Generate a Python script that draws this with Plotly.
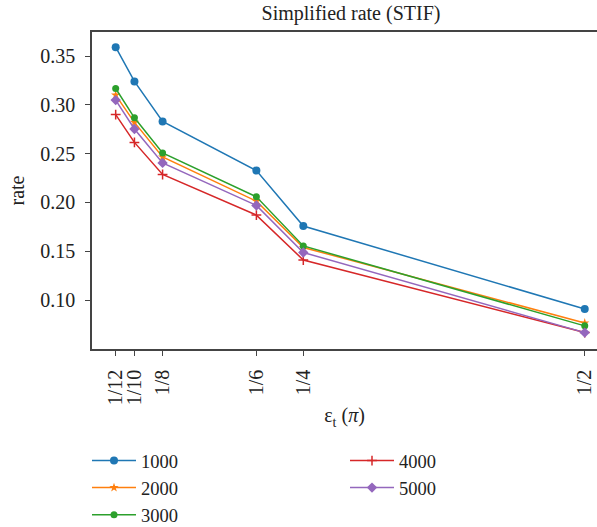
import plotly.graph_objects as go

# Data
x_values = [1/12, 1/10, 1/8, 5/24, 1/4, 1/2]
x_tick_labels = ["1/12", "1/10", "1/8", "1/6", "1/4", "1/2"]
series_names = ["1000", "2000", "3000", "4000", "5000"]
rate_1000 = [0.359, 0.324, 0.283, 0.2326, 0.1758, 0.0908]
rate_2000 = [0.310, 0.282, 0.2466, 0.2013, 0.1538, 0.0765]
rate_3000 = [0.3167, 0.2867, 0.2507, 0.2058, 0.1554, 0.0735]
rate_4000 = [0.290, 0.2615, 0.2286, 0.187, 0.141, 0.0666]
rate_5000 = [0.3048, 0.2752, 0.2405, 0.1969, 0.1487, 0.0666]
y_tick_values = [0.10, 0.15, 0.20, 0.25, 0.30, 0.35]

series = [rate_1000, rate_2000, rate_3000, rate_4000, rate_5000]
colors = ["#1f77b4", "#ff7f0e", "#2ca02c", "#d62728", "#9467bd"]
symbols = ["circle", "star", "circle", "cross-thin", "diamond"]
sizes = [8, 7, 7, 7, 8]
legends = ["legend", "legend", "legend", "legend2", "legend2"]

FONT = "Liberation Serif, Times New Roman, serif"
FS = 20
LFS = 18.5
fig = go.Figure()
for name, ys, c, s, sz, lg in zip(series_names, series, colors, symbols, sizes, legends):
    fig.add_trace(go.Scatter(
        x=x_values, y=ys, name=name, mode="lines+markers",
        line=dict(color=c, width=1.5),
        marker=dict(symbol=s, size=sz, color=c, line=dict(color=c, width=1.5 if s == "cross-thin" else 0)),
        legend=lg,
    ))

W, H = 597, 527
L, R, T, B = 92, 0, 32, 178
pw = W - L - R
ph = H - T - B

fig.update_layout(
    width=W, height=H,
    margin=dict(l=L, r=R, t=T, b=B, autoexpand=False),
    plot_bgcolor="white", paper_bgcolor="white",
    font=dict(family=FONT, size=FS, color="#222"),
    title=dict(text="Simplified rate (STIF)", x=351 / W, xanchor="center",
               y=1 - 13 / H, yanchor="middle", font=dict(size=FS, family=FONT, color="#222")),
    xaxis=dict(
        range=[0.0623, 0.5109], tickvals=x_values, ticktext=x_tick_labels,
        tickangle=-90, ticks="outside", ticklen=5, tickcolor="#444", tickwidth=1.2,
        showline=True, linecolor="#444", linewidth=1.5, mirror=True,
        showgrid=False, zeroline=False, automargin=False, ticklabelstandoff=6,
        tickfont=dict(family=FONT, size=FS),
        title=dict(text="ε<sub>t</sub> (<i>π</i>)", standoff=4, font=dict(size=FS, family=FONT)),
    ),
    yaxis=dict(
        range=[0.0498, 0.3746], tickvals=y_tick_values, tickformat=".2f",
        ticks="outside", ticklen=5, tickcolor="#444", tickwidth=1.2,
        showline=True, linecolor="#444", linewidth=1.5, mirror=False,
        showgrid=False, zeroline=False, automargin=False, ticklabelstandoff=6,
        tickfont=dict(family=FONT, size=FS),
        title=dict(text="rate", standoff=10, font=dict(size=FS, family=FONT)),
    ),
    legend=dict(x=(87 - L) / pw, xanchor="left", y=(H - B - 442) / ph, yanchor="top",
                bgcolor="rgba(0,0,0,0)", font=dict(size=LFS, family=FONT), tracegroupgap=0,
                itemwidth=44),
    legend2=dict(x=(345 - L) / pw, xanchor="left", y=(H - B - 442) / ph, yanchor="top",
                 bgcolor="rgba(0,0,0,0)", font=dict(size=LFS, family=FONT), tracegroupgap=0,
                 itemwidth=44),
    showlegend=True,
)

fig.write_html("out.html", config={"displayModeBar": False},
               post_script="document.body.style.margin='0px';")
